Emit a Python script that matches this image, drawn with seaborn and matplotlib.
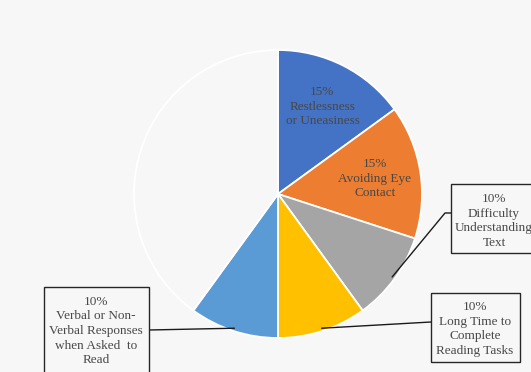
import numpy as np
import matplotlib
matplotlib.use("Agg")
import matplotlib.pyplot as plt
from matplotlib.patches import Rectangle
import seaborn as sns

categories = ["Restlessness\nor Uneasiness", "Avoiding Eye\nContact",
              "Difficulty\nUnderstanding\nText", "Long Time to\nComplete\nReading Tasks",
              "Verbal or Non-\nVerbal Responses\nwhen Asked  to\nRead", ""]
values = [15, 15, 10, 10, 10, 40]
pct_labels = ["15%", "15%", "10%", "10%", "10%", ""]

BG = "#f7f7f7"
colors = ["#4472c4", "#ed7d31", "#a5a5a5", "#ffc000", "#5b9bd5", BG]

sns.set_theme(style="white")
plt.rcParams["font.family"] = ["Liberation Serif", "DejaVu Serif"]

W, H = 531, 372
fig = plt.figure(figsize=(W / 100, H / 100), dpi=100, facecolor=BG)
ax = fig.add_axes([0, 0, 1, 1])
ax.set_facecolor(BG)

cx, cy, R = 278, H - 194, 144
wedges, _ = ax.pie(values, colors=colors, startangle=90, counterclock=False,
                   center=(cx, cy), radius=R,
                   wedgeprops=dict(edgecolor="white", linewidth=1.3))
ax.set_xlim(0, W)
ax.set_ylim(0, H)
ax.set_aspect("equal")
ax.axis("off")

TXT = "#484848"
FS = 9.5
LS = 1.3

def mid_angle(w):
    return np.deg2rad((w.theta1 + w.theta2) / 2)

# inside labels
for i in (0, 1):
    a = mid_angle(wedges[i])
    x = cx + 0.68 * R * np.cos(a)
    y = cy + 0.68 * R * np.sin(a)
    ax.text(x, y, pct_labels[i] + "\n" + categories[i], ha="center", va="center",
            fontsize=FS, color=TXT, linespacing=LS)

# callout boxes (pixel coords, top-origin)
boxes = {
    2: dict(box=(451, 184, 545, 253), anchor=(451, 213), elbow=(445, 213)),
    3: dict(box=(431, 293, 520, 362), anchor=(431, 322), elbow=None),
    4: dict(box=(44, 287, 149, 385), anchor=(149, 330), elbow=None),
}
for i, b in boxes.items():
    x0, y0, x1, y1 = b["box"]
    ax.add_patch(Rectangle((x0, H - y1), x1 - x0, y1 - y0, facecolor=BG,
                           edgecolor="#262626", linewidth=1.0, zorder=3))
    a = mid_angle(wedges[i])
    px = cx + R * 0.98 * np.cos(a)
    py = cy + R * 0.98 * np.sin(a)
    pts = [(px, py)]
    if b["elbow"] is not None:
        pts.append((b["elbow"][0], H - b["elbow"][1]))
    pts.append((b["anchor"][0], H - b["anchor"][1]))
    xs, ys = zip(*pts)
    ax.plot(xs, ys, color="#1a1a1a", linewidth=1.0, zorder=2)

text_pos = {2: (494, 221), 3: (475, 329), 4: (96, 331)}
for i, (tx, ty) in text_pos.items():
    ax.text(tx, H - ty, pct_labels[i] + "\n" + categories[i], ha="center", va="center",
            fontsize=FS, color=TXT, linespacing=LS, zorder=4)

fig.savefig("out.png", dpi=100, facecolor=BG)
